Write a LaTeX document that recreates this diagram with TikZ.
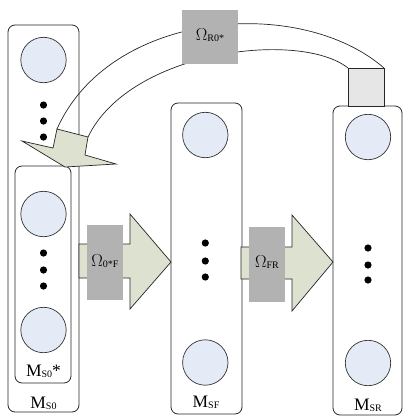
\documentclass[tikz,border=0pt]{standalone}
\usepackage{fontspec}
\setmainfont{Liberation Serif}
\begin{document}
\begin{tikzpicture}[x=1pt,y=-1pt,
  box/.style={draw=black!85,line width=0.8pt,rounded corners=7pt},
  ball/.style={draw=black!80,line width=0.7pt,fill=ballfill},
  dot/.style={fill=black},
  blockarrow/.style={draw=black!85,line width=0.7pt,fill=arrowfill},
  omegabox/.style={fill=omegafill},
  lbl/.style={anchor=base,inner sep=0pt,font=\fontsize{17.5}{19}\selectfont},
]
\definecolor{ballfill}{RGB}{228,235,246}
\definecolor{arrowfill}{RGB}{221,225,207}
\definecolor{omegafill}{RGB}{178,178,178}
\definecolor{capfill}{RGB}{230,230,230}
\newcommand{\subtxt}[1]{\raisebox{-1.5pt}{\fontsize{10}{11}\selectfont #1}}
\useasboundingbox (0,0) rectangle (403,416);
% boxes
\draw[box] (8,25) rectangle (79,412);
\draw[box] (15,166) rectangle (71,383);
\draw[box] (171,103) rectangle (242,414);
\draw[box] (333,106) rectangle (402,415);
% balls
\foreach \x/\y in {43.5/60, 43.5/214, 43.5/330, 205.3/135, 205.3/362.5, 368/137, 368/363}
  \draw[ball] (\x,\y) circle (22.7);
% dots
\foreach \x/\y in {43.5/105, 43.5/121, 43.5/137, 43.5/253, 43.5/270, 43.5/286,
                   205.3/243, 205.3/261, 205.3/277, 368/248, 368/265, 368/280}
  \fill[dot] (\x,\y) circle (3.6);
% curved arrow
\draw[black!85,line width=0.7pt] (57,129) .. controls (110,10) and (300,-5) .. (384,68);
\draw[black!85,line width=0.7pt] (88,137) .. controls (130,50) and (300,30) .. (348,68);
\draw[draw=black!85,line width=0.7pt,fill=capfill] (348,68) rectangle (384,106);
\draw[blockarrow] (57,129) -- (53,148) -- (22,141) -- (65,167) -- (116,164) -- (85,155) -- (88,137) -- cycle;
% horizontal arrows
\draw[blockarrow] (79,244) -- (130,244) -- (130,214) -- (171,262) -- (130,309) -- (130,278) -- (79,278) -- cycle;
\draw[blockarrow] (241,247) -- (292,247) -- (292,215) -- (333,262) -- (292,311) -- (292,279) -- (241,279) -- cycle;
% omega boxes
\fill[omegabox] (182,10) rectangle (238,64);
\fill[omegabox] (87,225) rectangle (123,300);
\fill[omegabox] (249,227) rectangle (285,302);
\node[lbl] (oR) at (210,40) {$\Omega$\subtxt{R0*}};
\node[lbl] (oF) at (105,266) {$\Omega$\subtxt{0*F}};
\node[lbl] (oFR) at (267,267) {$\Omega$\subtxt{FR}};
% labels
\node[lbl] (ms0s) at (43.5,376) {M\subtxt{S0}*};
\node[lbl] (ms0) at (43.5,408) {M\subtxt{S0}};
\node[lbl] (msf) at (206,407) {M\subtxt{SF}};
\node[lbl] (msr) at (368,410) {M\subtxt{SR}};
\end{tikzpicture}
\end{document}
